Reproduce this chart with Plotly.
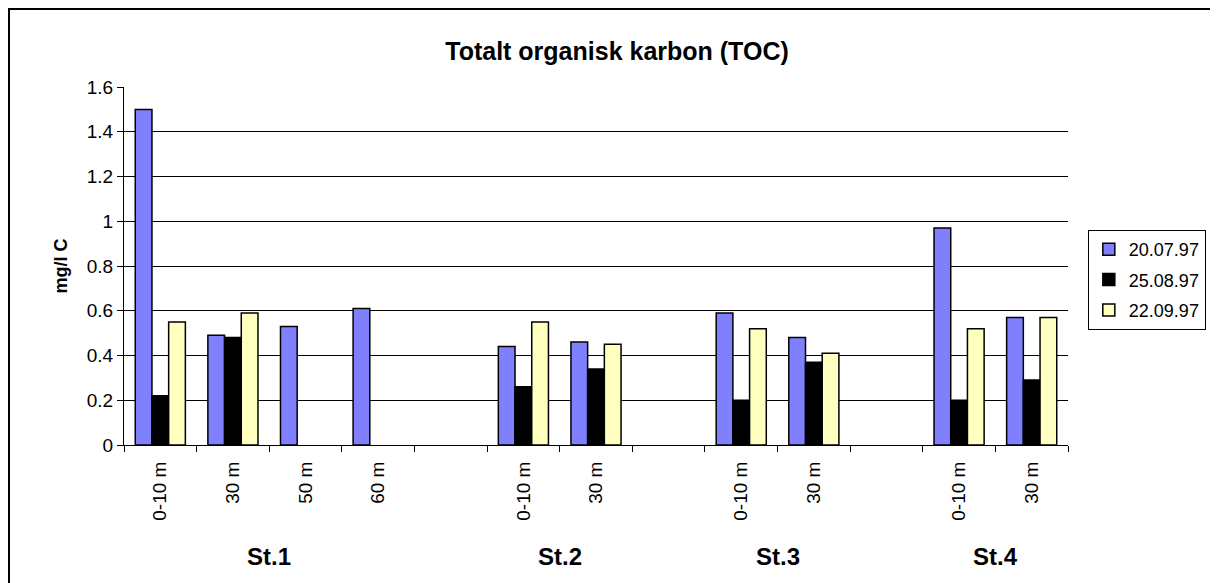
import plotly.graph_objects as go

depths = ['0-10 m', '30 m', '50 m', '60 m', '', '0-10 m', '30 m', '', '0-10 m', '30 m', '', '0-10 m', '30 m']
stations = ['St.1', 'St.2', 'St.3', 'St.4']
station_pos = [1.5, 5.5, 8.5, 11.5]

toc_200797 = [1.50, 0.49, 0.53, 0.61, None, 0.44, 0.46, None, 0.59, 0.48, None, 0.97, 0.57]
toc_250897 = [0.22, 0.48, None, None, None, 0.26, 0.34, None, 0.20, 0.37, None, 0.20, 0.29]
toc_220997 = [0.55, 0.59, None, None, None, 0.55, 0.45, None, 0.52, 0.41, None, 0.52, 0.57]

series = [('20.07.97', toc_200797, '#8080FF'),
          ('25.08.97', toc_250897, '#000000'),
          ('22.09.97', toc_220997, '#FFFFC0')]

W, H = 1218, 583
L, R, T, B = 116, 158, 79, 146
PW, PH = W - L - R, H - T - B

x = list(range(len(depths)))
xr = [-0.5, len(depths) - 0.5]
fig = go.Figure()
for name, vals, col in series:
    fig.add_trace(go.Bar(x=x, y=vals, name=name, legendgroup=name,
                         marker=dict(color=col, line=dict(color='black', width=1.5))))

fig.update_layout(
    width=W, height=H,
    margin=dict(l=L, r=R, t=T, b=B),
    paper_bgcolor='white', plot_bgcolor='white',
    font=dict(family='Liberation Sans, Arial, sans-serif', size=18, color='black'),
    barmode='group', bargap=0.31, bargroupgap=0,
    title=dict(text='<b>Totalt organisk karbon (TOC)</b>', x=0.5, xanchor='center',
               y=1 - 43 / H, yanchor='middle', font=dict(size=25)),
    legend=dict(x=1.021, xanchor='left', y=0.461, yanchor='middle',
                bordercolor='black', borderwidth=1, font=dict(size=18),
                tracegroupgap=4, itemwidth=30),
    showlegend=True,
)
fig.update_xaxes(range=xr, tickvals=x, ticktext=depths, tickangle=-90,
                 ticks='', showline=True, linecolor='black', linewidth=1, showgrid=False,
                 zeroline=False, tickfont=dict(size=19), ticklabelstandoff=8,
                 minor=dict(tick0=-0.5, dtick=1, ticks='outside', ticklen=6, tickcolor='black', showgrid=False))
fig.update_yaxes(range=[0, 1.6], dtick=0.2, tickformat='~g', showline=True, linecolor='black', linewidth=1,
                 ticks='outside', ticklen=6, tickcolor='black', showgrid=True, gridcolor='black',
                 gridwidth=1, zeroline=False, tickfont=dict(size=19),
                 title=dict(text='<b>mg/l C</b>', font=dict(size=18), standoff=14))
# inner half of the crossing category ticks
fig.update_layout(xaxis2=dict(overlaying='x', anchor='y', side='bottom', range=xr,
                              tickvals=[i - 0.5 for i in x] + [xr[1]], ticktext=[''] * (len(x) + 1),
                              ticks='inside', ticklen=5, tickcolor='black', showgrid=False,
                              zeroline=False, showline=False, showticklabels=False))

for s, p in zip(stations, station_pos):
    fig.add_annotation(x=p, y=0, xref='x', yref='paper', yanchor='middle', yshift=-111,
                       text='<b>' + s + '</b>', showarrow=False, font=dict(size=24))

fig.add_shape(type='rect', xref='paper', yref='paper',
              x0=-(L - 1) / PW, x1=1 + (R - 1) / PW,
              y0=-(B - 1) / PH, y1=1 + (T - 1) / PH,
              line=dict(color='black', width=2))

fig.write_html('out.html')
